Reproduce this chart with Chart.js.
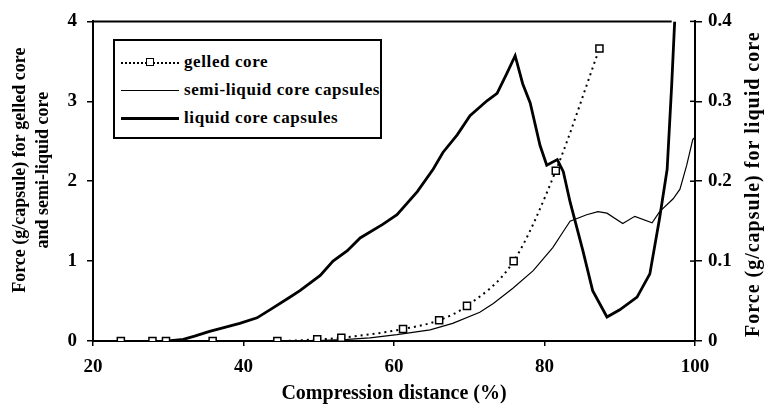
<!DOCTYPE html>
<html>
<head>
<meta charset="utf-8">
<script src="https://cdn.jsdelivr.net/npm/chart.js@4.4.0/dist/chart.umd.min.js"></script>
<style>
  body { margin: 0; background: #fff; }
  #wrap { position: relative; width: 766px; height: 406px; }
  #chart { position: absolute; left: 0; top: 0; }
  #legend {
    position: absolute; left: 113px; top: 39px; width: 265px; height: 96px;
    border: 2px solid #000; background: #fff;
    font: bold 17px "Liberation Serif", serif; letter-spacing: 0.6px; color: #000;
  }
  .row { position: absolute; left: 6px; height: 20px; display: flex; align-items: center; white-space: nowrap; }
  .sample { position: relative; width: 58px; height: 20px; margin-right: 5px; }
  .sample .ln { position: absolute; left: 0; right: 0; top: 50%; border-top-style: solid; border-top-color: #000; }
  .sample .mk { position: absolute; left: 25px; top: 6px; width: 6px; height: 6px; border: 1.5px solid #000; background: #fff; }
</style>
</head>
<body>
<div id="wrap">
  <canvas id="chart" width="766" height="406"></canvas>
  <div id="legend"></div>
</div>
<script>
// gelled core (left axis, g/capsule)
const gelX = [23.7, 27.9, 29.7, 35.9, 44.5, 49.8, 53.0, 61.2, 66.0, 69.7, 75.9, 81.5, 87.3];
const gelY = [0, 0, 0, 0, 0, 0.02, 0.04, 0.15, 0.26, 0.44, 1.0, 2.13, 3.66];

// semi-liquid core capsules (left axis)
const semiX = [30, 40, 50, 53.8, 56.8, 60.4, 64.8, 67.8, 71.4, 73.2, 75.8, 78.5, 81.1, 82.5, 83.4,
  85.6, 87.1, 88.3, 90.4, 92.0, 94.3, 95.3, 97.1, 98.0, 98.9, 99.7, 100];
const semiY = [0, 0, 0.005, 0.02, 0.04, 0.08, 0.14, 0.22, 0.36, 0.47, 0.66, 0.88, 1.17, 1.37, 1.50,
  1.58, 1.62, 1.60, 1.47, 1.56, 1.48, 1.62, 1.78, 1.90, 2.20, 2.52, 2.55];

// liquid core capsules (right axis)
const liqX = [30, 32, 33.5, 35.5, 37.5, 39.5, 41.8, 43.5, 46.2, 47.5, 50.2, 51.9, 53.8, 55.5, 58.5,
  60.4, 63.1, 65.2, 66.5, 68.4, 70.1, 72.4, 73.7, 75.0, 76.1, 77.1, 78.1, 79.4, 80.3, 81.7, 82.5,
  83.4, 85.1, 86.4, 88.3, 90.0, 92.3, 94.0, 95.3, 96.3, 96.9, 97.3];
const liqY = [0, 0.002, 0.006, 0.012, 0.017, 0.022, 0.029, 0.039, 0.055, 0.063, 0.082, 0.100, 0.113,
  0.129, 0.146, 0.158, 0.187, 0.215, 0.236, 0.258, 0.282, 0.301, 0.310, 0.335, 0.357, 0.322, 0.298,
  0.245, 0.220, 0.227, 0.212, 0.174, 0.113, 0.063, 0.030, 0.039, 0.055, 0.084, 0.154, 0.215, 0.32, 0.40];

const seriesNames = ["gelled core", "semi-liquid core capsules", "liquid core capsules"];
const xTitle = "Compression distance (%)";
const yTitle = ["Force (g/capsule) for gelled core", "and semi-liquid core"];
const y1Title = "Force (g/capsule) for liquid core";

function toPoints(xs, ys) {
  return xs.map((x, i) => ({ x: x, y: ys[i] }));
}

const FONT = "'Liberation Serif', 'Times New Roman', serif";
const tickFont = { family: FONT, size: 19, weight: "bold" };

// top frame line stops where the liquid curve leaves the plot
const frameEnd = 96.9;

// draws a rotated (bottom-to-top) title, one or more lines
function drawVTitle(ctx, lines, x, y, size, spacing, lineGap) {
  ctx.save();
  ctx.translate(x, y);
  ctx.rotate(-Math.PI / 2);
  ctx.font = "bold " + size + "px " + FONT;
  ctx.letterSpacing = spacing;
  ctx.fillStyle = "#000";
  ctx.textAlign = "center";
  ctx.textBaseline = "middle";
  lines.forEach((line, i) => ctx.fillText(line, 0, i * lineGap));
  ctx.restore();
}

const framePlugin = {
  id: "frame",
  afterDraw(chart) {
    const { ctx, chartArea, scales } = chart;
    ctx.save();
    ctx.strokeStyle = "#000";
    ctx.lineWidth = 2;
    ctx.beginPath();
    ctx.moveTo(chartArea.left - 1, chartArea.top);
    ctx.lineTo(scales.x.getPixelForValue(frameEnd), chartArea.top);
    ctx.stroke();
    // right axis ticks also cross inward a bit
    ctx.lineWidth = 1.5;
    scales.y1.ticks.forEach((t) => {
      const py = scales.y1.getPixelForValue(t.value);
      ctx.beginPath();
      ctx.moveTo(chartArea.right - 5, py);
      ctx.lineTo(chartArea.right, py);
      ctx.stroke();
    });
    ctx.restore();

    const midY = (chartArea.top + chartArea.bottom) / 2;
    drawVTitle(ctx, yTitle, scales.y.left + 20, midY - 11, 18, "0px", 23);
    drawVTitle(ctx, [y1Title], scales.y1.right - 12, midY + 3, 20, "1px", 0);
  },
};

const chart = new Chart(document.getElementById("chart"), {
  type: "line",
  data: {
    datasets: [
      {
        label: seriesNames[0],
        data: toPoints(gelX, gelY),
        yAxisID: "y",
        borderColor: "#000",
        borderWidth: 2,
        borderDash: [2, 4],
        cubicInterpolationMode: "monotone",
        pointStyle: "rect",
        pointRadius: 5,
        pointBorderWidth: 1.5,
        pointBorderColor: "#000",
        pointBackgroundColor: "#fff",
      },
      {
        label: seriesNames[1],
        data: toPoints(semiX, semiY),
        yAxisID: "y",
        borderColor: "#000",
        borderWidth: 1.2,
        pointRadius: 0,
        tension: 0,
      },
      {
        label: seriesNames[2],
        data: toPoints(liqX, liqY),
        yAxisID: "y1",
        borderColor: "#000",
        borderWidth: 2.8,
        pointRadius: 0,
        tension: 0,
      },
    ],
  },
  options: {
    responsive: false,
    animation: false,
    layout: { padding: { top: 17, left: 0, right: 0, bottom: 0 } },
    plugins: { legend: { display: false }, tooltip: { enabled: false } },
    scales: {
      x: {
        type: "linear",
        min: 20,
        max: 100,
        ticks: { stepSize: 20, font: tickFont, color: "#000", padding: 10 },
        grid: { drawOnChartArea: false, tickLength: 5, color: "#000", lineWidth: 1.5 },
        border: { color: "#000", width: 2 },
        title: { display: true, text: xTitle, font: { family: FONT, size: 20, weight: "bold", lineHeight: 1.2 }, color: "#000", padding: 0 },
        afterFit(scale) { scale.height = 65; },
      },
      y: {
        position: "left",
        min: 0,
        max: 4,
        ticks: { stepSize: 1, font: tickFont, color: "#000", padding: 10 },
        grid: { drawOnChartArea: false, tickLength: 6, color: "#000", lineWidth: 1.5 },
        border: { color: "#000", width: 2 },
        title: { display: false },
        afterFit(scale) { scale.width = 93; },
      },
      y1: {
        position: "right",
        min: 0,
        max: 0.4,
        ticks: { stepSize: 0.1, font: tickFont, color: "#000", padding: 6 },
        grid: { drawOnChartArea: false, tickLength: 7, color: "#000", lineWidth: 1.5 },
        border: { color: "#000", width: 2 },
        title: { display: false },
        afterFit(scale) { scale.width = 71; },
      },
    },
  },
  plugins: [framePlugin],
});

// legend box inside the plot, built from the datasets
const legendEl = document.getElementById("legend");
const rowTops = [11, 39, 67];
chart.data.datasets.forEach((ds, i) => {
  const row = document.createElement("div");
  row.className = "row";
  row.style.top = rowTops[i] + "px";
  const sample = document.createElement("div");
  sample.className = "sample";
  const ln = document.createElement("div");
  ln.className = "ln";
  ln.style.borderTopWidth = (i === 1 ? 1 : i === 2 ? 3 : 2) + "px";
  if (ds.borderDash) ln.style.borderTopStyle = "dotted";
  ln.style.marginTop = (i === 2 ? -1 : 0) + "px";
  sample.appendChild(ln);
  if (ds.pointRadius) {
    const mk = document.createElement("div");
    mk.className = "mk";
    sample.appendChild(mk);
  }
  const txt = document.createElement("span");
  txt.textContent = ds.label;
  row.appendChild(sample);
  row.appendChild(txt);
  legendEl.appendChild(row);
});
</script>
</body>
</html>
